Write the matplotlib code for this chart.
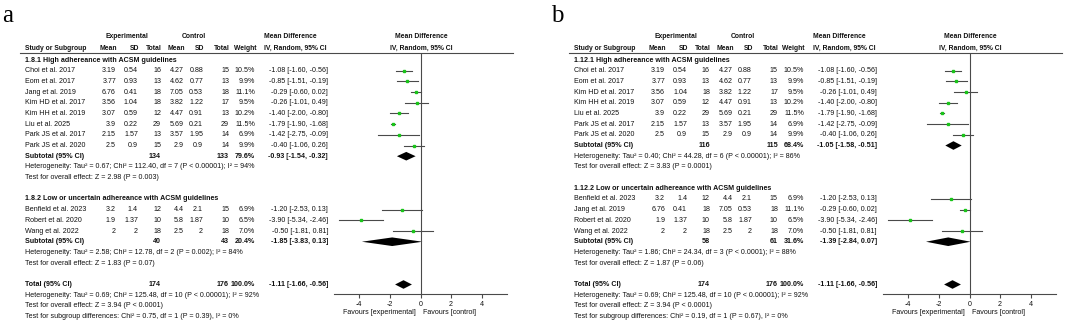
import matplotlib
matplotlib.use("Agg")
import matplotlib.pyplot as plt

# ---- study data (shared by both panels) ----
study = ["Choi et al. 2017", "Eom et al. 2017", "Jang et al. 2019", "Kim HD et al. 2017",
         "Kim HH et al. 2019", "Liu et al. 2025", "Park JS et al. 2017", "Park JS et al. 2020",
         "Benfield et al. 2023", "Robert et al. 2020", "Wang et al. 2022"]
exp_mean = [3.19, 3.77, 6.76, 3.56, 3.07, 3.9, 2.15, 2.5, 3.2, 1.9, 2]
exp_sd = [0.54, 0.93, 0.41, 1.04, 0.59, 0.22, 1.57, 0.9, 1.4, 1.37, 2]
exp_n = [16, 13, 18, 18, 12, 29, 13, 15, 12, 10, 18]
ctl_mean = [4.27, 4.62, 7.05, 3.82, 4.47, 5.69, 3.57, 2.9, 4.4, 5.8, 2.5]
ctl_sd = [0.88, 0.77, 0.53, 1.22, 0.91, 0.21, 1.95, 0.9, 2.1, 1.87, 2]
ctl_n = [15, 13, 18, 17, 13, 29, 14, 14, 15, 10, 18]
weight = [10.5, 9.9, 11.1, 9.5, 10.2, 11.5, 6.9, 9.9, 6.9, 6.5, 7.0]
md = [-1.08, -0.85, -0.29, -0.26, -1.40, -1.79, -1.42, -0.40, -1.20, -3.90, -0.50]
ci_lo = [-1.60, -1.51, -0.60, -1.01, -2.00, -1.90, -2.75, -1.06, -2.53, -5.34, -1.81]
ci_hi = [-0.56, -0.19, 0.02, 0.49, -0.80, -1.68, -0.09, 0.26, 0.13, -2.46, 0.81]

# ---- panel a subgroups ----
groups_a = ["1.8.1 High adhereance with ACSM guidelines",
            "1.8.2 Low or uncertain adhereance with ACSM guidelines"]
members_a = [[0, 1, 2, 3, 4, 5, 6, 7], [8, 9, 10]]
sub_ne_a = [134, 40]
sub_nc_a = [133, 43]
sub_w_a = [79.6, 20.4]
sub_md_a = [-0.93, -1.85]
sub_lo_a = [-1.54, -3.83]
sub_hi_a = [-0.32, 0.13]
het_a = ["Heterogeneity: Tau² = 0.67; Chi² = 112.40, df = 7 (P < 0.00001); I² = 94%",
         "Heterogeneity: Tau² = 2.58; Chi² = 12.78, df = 2 (P = 0.002); I² = 84%"]
z_a = ["Test for overall effect: Z = 2.98 (P = 0.003)",
       "Test for overall effect: Z = 1.83 (P = 0.07)"]
subdiff_a = "Test for subgroup differences: Chi² = 0.75, df = 1 (P = 0.39), I² = 0%"

# ---- panel b subgroups ----
groups_b = ["1.12.1 High adhereance with ACSM guidelines",
            "1.12.2 Low or uncertain adhereance with ACSM guidelines"]
members_b = [[0, 1, 3, 4, 5, 6, 7], [8, 2, 9, 10]]
sub_ne_b = [116, 58]
sub_nc_b = [115, 61]
sub_w_b = [68.4, 31.6]
sub_md_b = [-1.05, -1.39]
sub_lo_b = [-1.58, -2.84]
sub_hi_b = [-0.51, 0.07]
het_b = ["Heterogeneity: Tau² = 0.40; Chi² = 44.28, df = 6 (P < 0.00001); I² = 86%",
         "Heterogeneity: Tau² = 1.86; Chi² = 24.34, df = 3 (P < 0.0001); I² = 88%"]
z_b = ["Test for overall effect: Z = 3.83 (P = 0.0001)",
       "Test for overall effect: Z = 1.87 (P = 0.06)"]
subdiff_b = "Test for subgroup differences: Chi² = 0.19, df = 1 (P = 0.67), I² = 0%"

# ---- overall ----
tot_ne, tot_nc, tot_w = 174, 176, 100.0
tot_md, tot_lo, tot_hi = -1.11, -1.66, -0.56
tot_het = "Heterogeneity: Tau² = 0.69; Chi² = 125.48, df = 10 (P < 0.00001); I² = 92%"
tot_z = "Test for overall effect: Z = 3.94 (P < 0.0001)"

ticks = [-4, -2, 0, 2, 4]

FONT = "Liberation Sans"
FS = 5.1
TXT = "#111111"
LINE = "#4a4a4a"
GREEN = "#19c419"
W, H = 1065, 323

fig = plt.figure(figsize=(W / 100, H / 100), dpi=100)
bg = fig.add_axes([0, 0, 1, 1])
bg.set_xlim(0, W)
bg.set_ylim(H, 0)
bg.axis("off")


def txt(x, y, s, ha="left", bold=False, size=FS):
    bg.text(x, y, s, ha=ha, va="center", fontsize=size, family=FONT,
            fontweight="bold" if bold else "normal", color=TXT)


def ci_str(m, lo, hi):
    return f"{m:.2f} [{lo:.2f}, {hi:.2f}]"


def row_y(i):
    return 60 + 10.69 * i


def draw_panel(ox, letter, groups, members, sne, snc, sw, smd, slo, shi, hets, zs, subdiff):
    c_name = 25 + ox
    cols = [116, 138, 161, 184, 203, 229, 255]
    cols = [c + ox for c in cols]
    c_ci = 328 + ox
    HF = 4.9  # header font size

    bg.text(2 + ox, 22, letter, fontsize=18, family="Liberation Serif", color="black",
            ha="left", va="baseline")

    # header
    txt(127 + ox, 37, "Experimental", ha="center", bold=True, size=HF)
    txt(194 + ox, 37, "Control", ha="center", bold=True, size=HF)
    txt(c_name, 48, "Study or Subgroup", bold=True, size=HF)
    for c, lab in zip(cols, ["Mean", "SD", "Total", "Mean", "SD", "Total", "Weight"]):
        txt(c + 1, 48, lab, ha="right", bold=True, size=HF)
    txt(264 + ox, 37, "Mean Difference", bold=True, size=HF)
    txt(264 + ox, 48, "IV, Random, 95% CI", bold=True, size=HF)
    txt(421 + ox, 37, "Mean Difference", ha="center", bold=True, size=HF)
    txt(421 + ox, 48, "IV, Random, 95% CI", ha="center", bold=True, size=HF)
    bg.plot([20 + ox, 513 + ox], [52.5, 52.5], color=LINE, lw=0.8)

    # forest axes: MD units horizontally, pixel rows vertically
    left, right = 334 + ox, 507 + ox
    fa = fig.add_axes([left / W, 1 - 294 / H, (right - left) / W, (294 - 52.5) / H])
    fa.set_xlim(-5.65, 5.65)
    fa.set_ylim(294, 52.5)
    fa.patch.set_alpha(0)
    for sp in ["top", "left", "right"]:
        fa.spines[sp].set_visible(False)
    fa.spines["bottom"].set_color(LINE)
    fa.spines["bottom"].set_linewidth(0.8)
    fa.set_yticks([])
    fa.set_xticks(ticks)
    fa.set_xticklabels([str(t) for t in ticks], fontsize=FS, family=FONT, color=TXT)
    fa.tick_params(axis="x", length=3, width=0.8, color=LINE, pad=2)
    fa.axvline(0, color=LINE, lw=0.8)
    fa.text(-0.3, 313, "Favours [experimental]", ha="right", va="center",
            fontsize=FS, family=FONT, color=TXT)
    fa.text(0.17, 313, "Favours [control]", ha="left", va="center",
            fontsize=FS, family=FONT, color=TXT)

    def diamond(y, m, lo, hi):
        fa.fill([lo, m, hi, m], [y, y - 4.3, y, y + 4.3], color="black", lw=0)

    i = 0
    for g in range(len(groups)):
        txt(c_name, row_y(i), groups[g], bold=True)
        i += 1
        for k in members[g]:
            y = row_y(i)
            txt(c_name, y, study[k])
            vals = [f"{exp_mean[k]:g}", f"{exp_sd[k]:g}", f"{exp_n[k]}",
                    f"{ctl_mean[k]:g}", f"{ctl_sd[k]:g}", f"{ctl_n[k]}", f"{weight[k]:.1f}%"]
            for c, v in zip(cols, vals):
                txt(c, y, v, ha="right")
            txt(c_ci, y, ci_str(md[k], ci_lo[k], ci_hi[k]), ha="right")
            fa.plot([ci_lo[k], ci_hi[k]], [y, y], color=LINE, lw=0.8)
            fa.plot(md[k], y, marker="s", ms=1.9 * (weight[k] / 10) ** 0.5,
                    color=GREEN, mec=GREEN, lw=0)
            i += 1
        y = row_y(i)
        txt(c_name, y, "Subtotal (95% CI)", bold=True)
        txt(cols[2], y, f"{sne[g]}", ha="right", bold=True)
        txt(cols[5], y, f"{snc[g]}", ha="right", bold=True)
        txt(cols[6], y, f"{sw[g]:.1f}%", ha="right", bold=True)
        txt(c_ci, y, ci_str(smd[g], slo[g], shi[g]), ha="right", bold=True)
        diamond(y, smd[g], slo[g], shi[g])
        i += 1
        txt(c_name, row_y(i), hets[g])
        i += 1
        txt(c_name, row_y(i), zs[g])
        i += 2

    i = 21
    y = row_y(i)
    txt(c_name, y, "Total (95% CI)", bold=True)
    txt(cols[2], y, f"{tot_ne}", ha="right", bold=True)
    txt(cols[5], y, f"{tot_nc}", ha="right", bold=True)
    txt(cols[6], y, f"{tot_w:.1f}%", ha="right", bold=True)
    txt(c_ci, y, ci_str(tot_md, tot_lo, tot_hi), ha="right", bold=True)
    diamond(y, tot_md, tot_lo, tot_hi)
    txt(c_name, row_y(22), tot_het)
    txt(c_name, row_y(23), tot_z)
    txt(c_name, row_y(24), subdiff)


draw_panel(0, "a", groups_a, members_a, sub_ne_a, sub_nc_a, sub_w_a,
           sub_md_a, sub_lo_a, sub_hi_a, het_a, z_a, subdiff_a)
draw_panel(549, "b", groups_b, members_b, sub_ne_b, sub_nc_b, sub_w_b,
           sub_md_b, sub_lo_b, sub_hi_b, het_b, z_b, subdiff_b)

fig.savefig("out.png", dpi=100)
